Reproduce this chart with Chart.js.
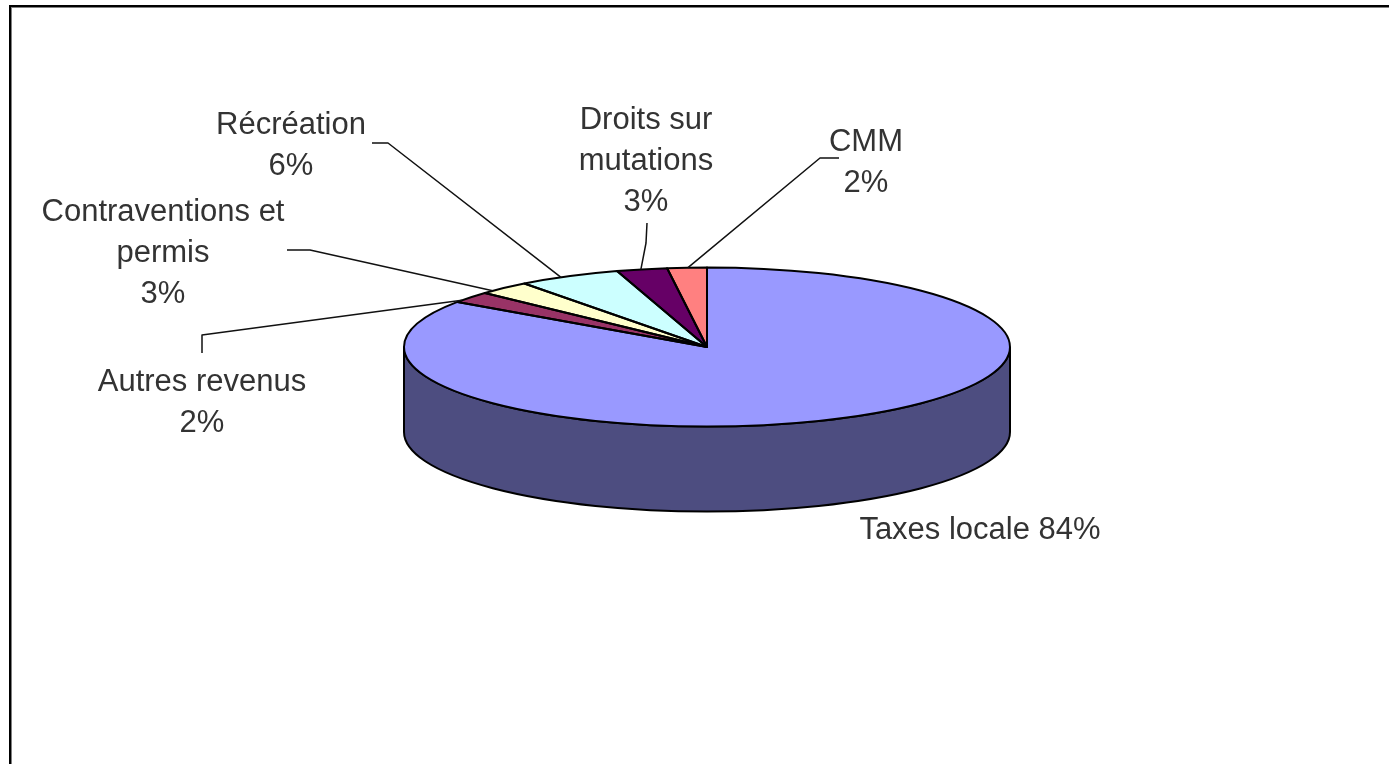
<!DOCTYPE html>
<html lang="fr">
<head>
<meta charset="utf-8">
<title>Revenus</title>
<script src="https://cdn.jsdelivr.net/npm/chart.js@4"></script>
<style>
    html, body { margin: 0; padding: 0; background: #fff; overflow: hidden; }
    canvas { display: block; }
</style>
</head>
<body>
<canvas id="chart" width="1389" height="764"></canvas>
<script>
const categories = ['Taxes locale', 'Autres revenus', 'Contraventions et permis', 'Récréation', 'Droits sur mutations', 'CMM'];
// pourcentages imprimés sur le graphique
const percentValues = [84, 2, 3, 6, 3, 2];
// parts mesurées sur le dessin (la perspective les décale un peu des pourcentages imprimés)
const sliceValues = [84.6, 2.3, 2.8, 5.5, 2.7, 2.1];
const sliceColors = ['#9999ff', '#993366', '#ffffcc', '#ccffff', '#660066', '#ff8080'];
const wallColors = ['#4d4d80', '#4d1a33', '#808066', '#668080', '#330033', '#804040'];

// lignes de texte de chaque étiquette (le pourcentage vient des données)
const labelLines = [['Taxes locale'], ['Autres revenus'], ['Contraventions et', 'permis'], ['Récréation'], ['Droits sur', 'mutations'], ['CMM']];
const labelCenterX = [980, 202, 163, 291, 646, 866];
const labelFirstY = [530, 382, 212, 125, 120, 142];
// coudes des traits de rappel, du côté du texte
const leaderPoints = [
    [],
    [[202, 353], [202, 335]],
    [[287, 250], [310, 250]],
    [[372, 143], [388, 143]],
    [[647, 223], [646, 243]],
    [[839, 158], [820, 158]]
];

const pieRadius = 303;
const pieSquash = 0.2624;
const pieDepth = 85;
const lineHeight = 41;
const textFont = '31px "Liberation Sans"';

const pie3d = {
    id: 'pie3d',
    beforeDraw(chart) {
        const ctx = chart.ctx;
        ctx.save();
        ctx.fillStyle = '#ffffff';
        ctx.fillRect(0, 0, chart.width, chart.height);
        // cadre : le bas et la droite sortent de l'image
        ctx.fillStyle = '#808080';
        ctx.fillRect(9, 5, chart.width, 3);
        ctx.fillRect(9, 5, 3, chart.height);
        ctx.fillStyle = '#000000';
        ctx.fillRect(9, 5, chart.width, 2);
        ctx.fillRect(9, 5, 2, chart.height);
        ctx.restore();
    },
    beforeDatasetsDraw(chart) {
        const ctx = chart.ctx;
        const arcs = chart.getDatasetMeta(0).data;
        const cx = arcs[0].x;
        const cy = arcs[0].y;
        const ry = pieRadius * pieSquash;

        // paroi avant du cylindre, seulement la moitié visible
        ctx.save();
        arcs.forEach((arc, i) => {
            const a = Math.max(arc.startAngle, 0);
            const b = Math.min(arc.endAngle, Math.PI);
            if (a >= b) return;
            ctx.beginPath();
            ctx.ellipse(cx, cy, pieRadius, ry, 0, a, b);
            ctx.ellipse(cx, cy + pieDepth, pieRadius, ry, 0, b, a, true);
            ctx.closePath();
            ctx.fillStyle = wallColors[i];
            ctx.fill();
            ctx.strokeStyle = '#000000';
            ctx.lineWidth = 2;
            ctx.stroke();
        });
        ctx.restore();

        // les parts sont dessinées par Chart.js, écrasées en ellipse
        ctx.save();
        ctx.translate(cx, cy);
        ctx.scale(1, pieSquash);
        ctx.translate(-cx, -cy);
    },
    afterDatasetsDraw(chart) {
        const ctx = chart.ctx;
        ctx.restore();

        const arcs = chart.getDatasetMeta(0).data;
        const cx = arcs[0].x;
        const cy = arcs[0].y;
        const ry = pieRadius * pieSquash;

        ctx.save();
        ctx.strokeStyle = '#000000';
        ctx.lineWidth = 2;
        ctx.lineJoin = 'round';
        arcs.forEach(arc => {
            ctx.beginPath();
            ctx.moveTo(cx, cy);
            ctx.ellipse(cx, cy, pieRadius, ry, 0, arc.startAngle, arc.endAngle);
            ctx.closePath();
            ctx.stroke();
        });

        // traits de rappel : ils visent le milieu de la part selon le pourcentage imprimé
        ctx.lineWidth = 1.5;
        ctx.strokeStyle = '#111111';
        let cumul = 0;
        percentValues.forEach((value, i) => {
            const mid = -Math.PI / 2 + (cumul + value / 2) / 100 * 2 * Math.PI;
            cumul += value;
            if (!leaderPoints[i].length) return;
            ctx.beginPath();
            leaderPoints[i].forEach((p, k) => k ? ctx.lineTo(p[0], p[1]) : ctx.moveTo(p[0], p[1]));
            ctx.lineTo(cx + pieRadius * Math.cos(mid), cy + ry * Math.sin(mid));
            ctx.stroke();
        });

        // étiquettes
        ctx.font = textFont;
        ctx.fillStyle = '#333333';
        ctx.textAlign = 'center';
        ctx.textBaseline = 'middle';
        categories.forEach((name, i) => {
            const percent = percentValues[i] + '%';
            const lines = i === 0 ? [labelLines[i][0] + ' ' + percent] : labelLines[i].concat(percent);
            lines.forEach((text, k) => {
                ctx.fillText(text, labelCenterX[i], labelFirstY[i] + k * lineHeight);
            });
        });
        ctx.restore();
    }
};

new Chart(document.getElementById('chart'), {
    type: 'pie',
    data: {
        labels: categories,
        datasets: [{
            data: sliceValues,
            backgroundColor: sliceColors,
            borderWidth: 0,
            radius: pieRadius,
            clip: false
        }]
    },
    options: {
        responsive: false,
        animation: false,
        // centre du camembert en (707, 347)
        layout: { padding: { left: 25, right: 0, top: 0, bottom: 70 } },
        plugins: {
            legend: { display: false },
            tooltip: { enabled: false }
        }
    },
    plugins: [pie3d]
});
</script>
</body>
</html>
